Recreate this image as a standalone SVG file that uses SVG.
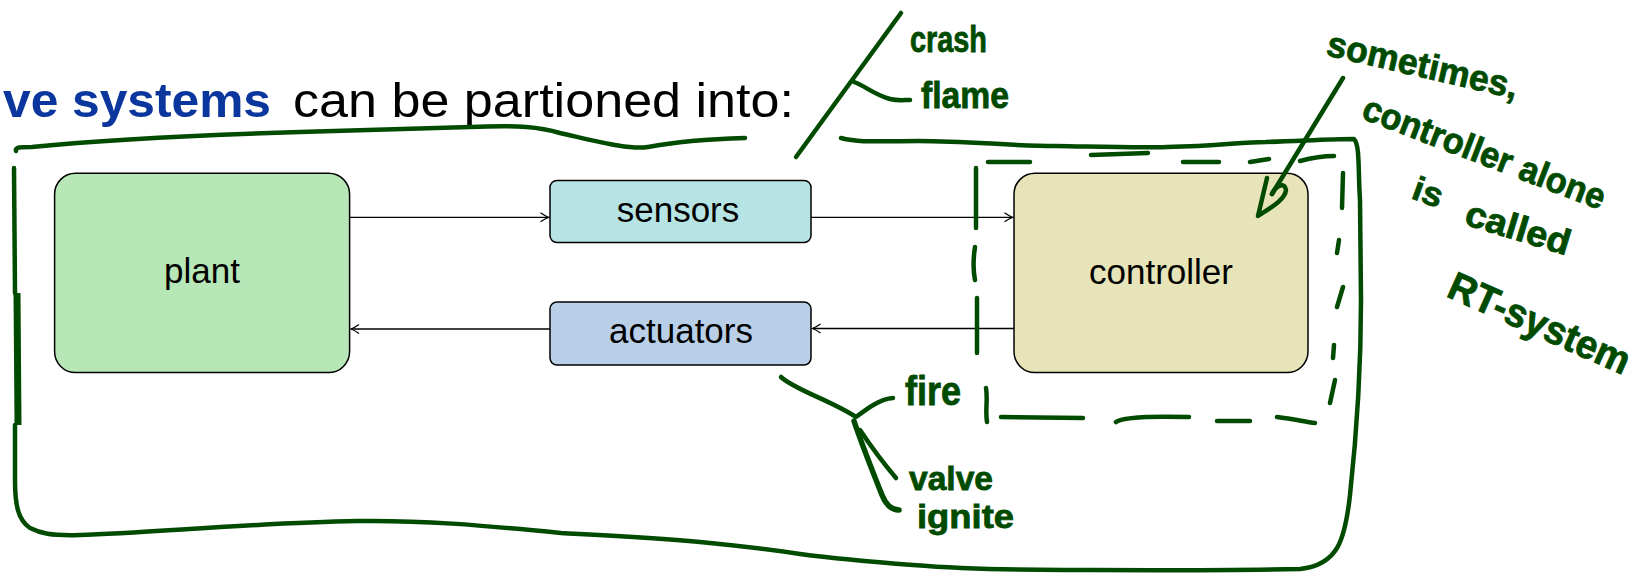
<svg xmlns="http://www.w3.org/2000/svg" width="1646" height="577" viewBox="0 0 1646 577">
<defs>
<style>
.box{stroke:#000;stroke-width:1.5}
.lbl{font-family:"Liberation Sans",Arial,sans-serif;font-size:35px;fill:#000;text-anchor:middle}
.conn{stroke:#000;stroke-width:1.3;fill:none}
.ink{stroke:#004b00;stroke-width:4.5;fill:none;stroke-linecap:round;stroke-linejoin:round}
.hw{font-family:"Liberation Sans",Arial,sans-serif;font-weight:bold;fill:#004b00;stroke:#004b00;stroke-width:0.8}
</style>
<marker id="arr" viewBox="-10 -6 12 12" refX="0" refY="0" markerWidth="12" markerHeight="12" markerUnits="userSpaceOnUse" orient="auto">
<path d="M-8,-4.5 Q-3,-1 0,0 Q-3,1 -8,4.5" fill="none" stroke="#000" stroke-width="1.3"/>
</marker>
</defs>
<rect width="1646" height="577" fill="#fff"/>

<g id="title">
<text x="3" y="117" font-family="Liberation Sans,Arial,sans-serif" font-size="48"><tspan font-weight="bold" fill="#0a369d" textLength="268" lengthAdjust="spacingAndGlyphs">ve systems</tspan><tspan x="293" fill="#000" textLength="501" lengthAdjust="spacingAndGlyphs">can be partioned into:</tspan></text>
</g>

<g id="plant">
<rect class="box" x="54.6" y="173.2" width="295" height="199.4" rx="21" fill="#b7e6b7"/>
<text class="lbl" x="202" y="283">plant</text>
</g>
<g id="sensors">
<rect class="box" x="550" y="180.5" width="261" height="62" rx="7" fill="#b6e4e4"/>
<text class="lbl" x="678" y="222">sensors</text>
</g>
<g id="actuators">
<rect class="box" x="550" y="302" width="261" height="63" rx="7" fill="#b8cfe7"/>
<text class="lbl" x="681" y="343">actuators</text>
</g>
<g id="controller">
<rect class="box" x="1014" y="173.2" width="294" height="199.4" rx="21" fill="#e6e4b8"/>
<text class="lbl" x="1161" y="284">controller</text>
</g>

<g id="connectors">
<path class="conn" d="M349.6,217.3 H548.5" marker-end="url(#arr)"/>
<path class="conn" d="M811,217.3 H1012.5" marker-end="url(#arr)"/>
<path class="conn" d="M1014,328.5 H812.5" marker-end="url(#arr)"/>
<path class="conn" d="M550,329 H351" marker-end="url(#arr)"/>
</g>

<g id="annotations">
<!-- outer hand-drawn frame -->
<path class="ink" d="M16,151 C15,147 20,147 32,147 C100,140 200,135 300,132 C380,130 440,128 470,127 C520,125 540,127 560,133 C600,142 630,150 648,147 C680,141 710,139 745,138"/>
<path class="ink" d="M14,168 L15,293"/>
<path class="ink" style="stroke-width:7;stroke-linecap:butt" d="M17,293 L18,425"/>
<path class="ink" d="M841,138 C860,143 880,141 918,141 C970,141 1010,146 1056,146 C1110,147 1140,148 1167,147 C1220,146 1240,142 1266,142 C1300,141 1330,139 1354,139 C1360,145 1358,170 1360,200 L1361,300 C1361,380 1356,440 1350,495 C1345,540 1338,565 1300,569 C1200,571 1100,570 1066,570 C1000,570 950,568 913,565 C860,561 830,558 800,554 C760,548 730,545 700,542 C650,537 600,535 561,533 C480,525 420,520 357,521 C250,523 150,533 80,535 C50,536 40,533 30,528 C18,520 15,505 15,480 L15,425"/>
<!-- crash / flame bracket -->
<path class="ink" d="M796,157 L901,13"/>
<path class="ink" d="M854,82 C865,86 875,95 890,99 C898,101 904,100 910,100"/>
<!-- fire / valve / ignite bracket -->
<path class="ink" d="M781,377 C795,390 830,400 856,417 C868,408 880,399 893,398"/>
<path class="ink" style="stroke-width:5.5" d="M854,421 C862,445 872,470 882,495 C886,505 892,510 899,510"/>
<path class="ink" d="M860,430 C872,448 885,465 896,478"/>
<!-- dashed frame around controller -->
<path class="ink" d="M988,162 L1030,162 M1091,155 L1148,153 M1183,162 L1219,162 M1250,162 L1269,159 M1300,161 C1315,157 1328,156 1334,156"/>
<path class="ink" d="M1343,173 L1342,208 M1339,240 L1337,253 M1343,287 L1337,307 M1334,345 L1333,358 M1335,380 L1330,403"/>
<path class="ink" d="M1001,417 L1083,418 M1116,422 C1122,417 1150,416 1189,417 M1217,421 L1250,421 M1277,417 C1295,419 1305,422 1315,423"/>
<path class="ink" d="M976,168 L976,228 M975,247 C973,260 973,270 975,280 M977,298 L977,353 M986,388 C988,400 985,410 987,422"/>
<!-- arrow from note to controller -->
<path class="ink" d="M1343,78 L1272,194"/>
<path class="ink" d="M1267,178 L1258,216 C1270,208 1285,200 1286,190 C1285,182 1276,185 1272,194"/>
<!-- handwritten notes -->
<text class="hw" x="910" y="52" font-size="36" textLength="77" lengthAdjust="spacingAndGlyphs">crash</text>
<text class="hw" x="921" y="108" font-size="36" textLength="88" lengthAdjust="spacingAndGlyphs">flame</text>
<text class="hw" x="905" y="405" font-size="40" textLength="56" lengthAdjust="spacingAndGlyphs">fire</text>
<text class="hw" x="909" y="490" font-size="34" textLength="84" lengthAdjust="spacingAndGlyphs">valve</text>
<text class="hw" x="917" y="528" font-size="34" textLength="97" lengthAdjust="spacingAndGlyphs">ignite</text>
<text class="hw" transform="translate(1325,55) rotate(13)" font-size="36" textLength="195" lengthAdjust="spacingAndGlyphs">sometimes,</text>
<text class="hw" transform="translate(1360,118) rotate(21)" font-size="36" textLength="257" lengthAdjust="spacingAndGlyphs">controller alone</text>
<text class="hw" transform="translate(1410,198) rotate(20)" font-size="34" textLength="30" lengthAdjust="spacingAndGlyphs">is</text>
<text class="hw" transform="translate(1463,224) rotate(17)" font-size="36" textLength="108" lengthAdjust="spacingAndGlyphs">called</text>
<text class="hw" transform="translate(1445,296) rotate(24)" font-size="40" textLength="195" lengthAdjust="spacingAndGlyphs">RT-system</text>
</g>
</svg>
